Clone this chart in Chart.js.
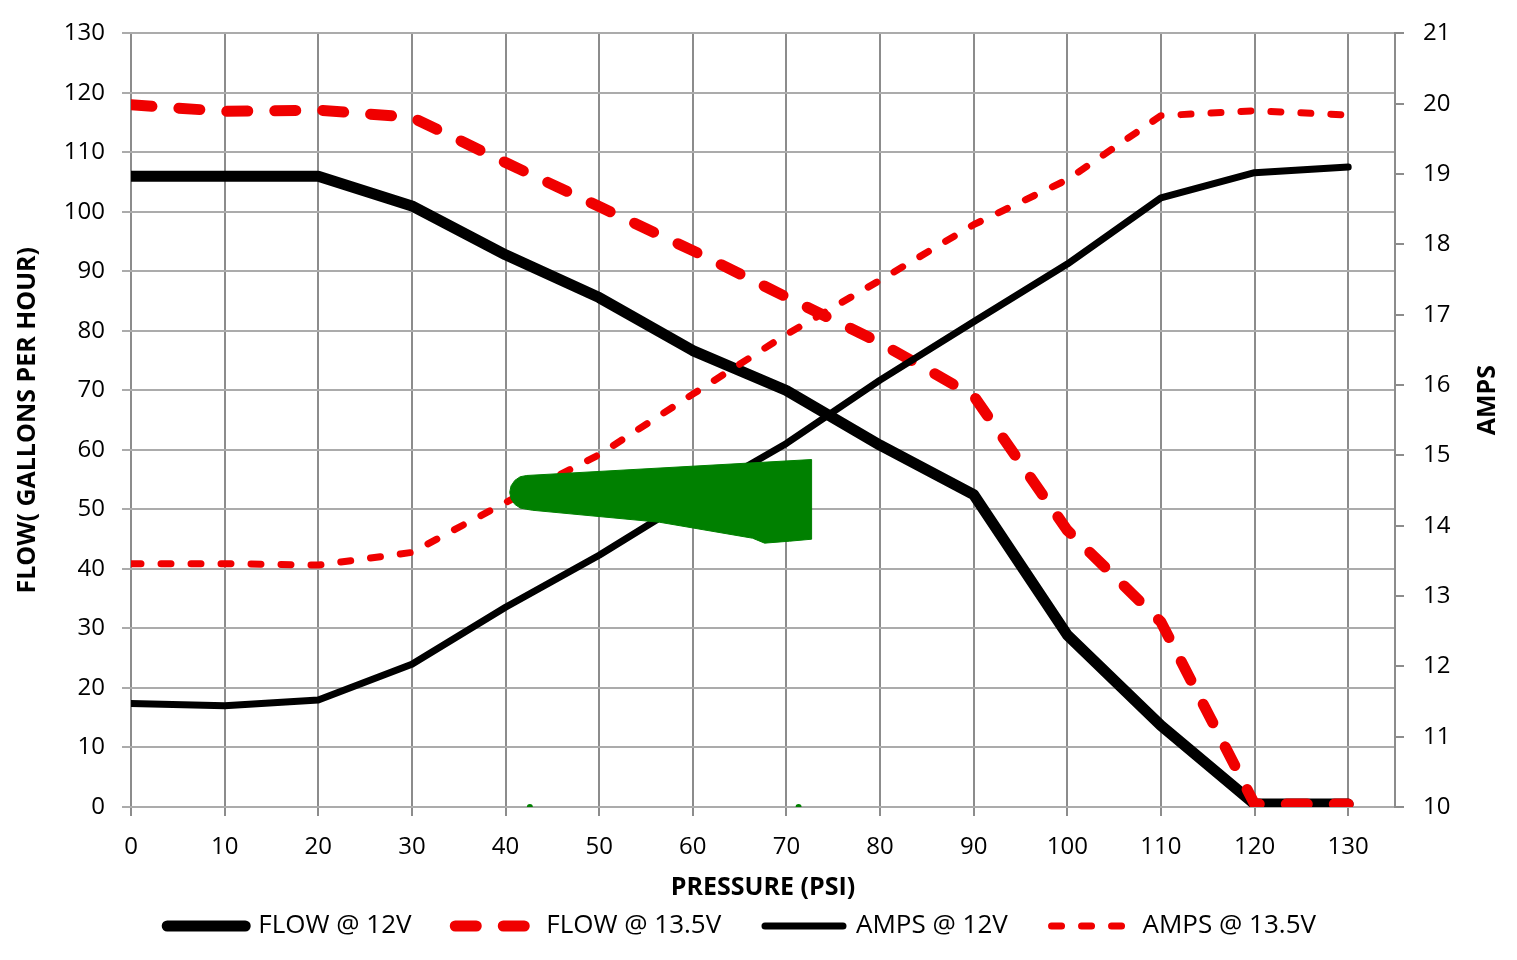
<!DOCTYPE html>
<html>
<head>
<meta charset="utf-8">
<title>Flow and amps vs pressure</title>
<script src="https://cdn.jsdelivr.net/npm/chart.js@4.4.1/dist/chart.umd.min.js"></script>
<style>
    html, body { margin: 0; padding: 0; background: #fff; }
    #chart { display: block; }
</style>
</head>
<body>
<canvas id="chart" width="1517" height="960"></canvas>
<script>
// pressure (psi) readings
const pressure = [0, 10, 20, 30, 40, 50, 60, 70, 80, 90, 100, 110, 120, 130];
const pressureTicks = [0, 10, 20, 30, 40, 50, 60, 70, 80, 90, 100, 110, 120, 130];

// flow in gallons per hour (left axis)
const flow12 = [106, 106, 106, 101, 92.8, 85.6, 76.7, 70, 60.8, 52.5, 28.9, 13.7, 0.5, 0.5];
const flow135 = [118, 116.9, 117.1, 115.9, 108.3, 100.9, 93.5, 85.7, 78, 69.1, 46.5, 31.1, 0.5, 0.5];

// amps (right axis)
const amps12 = [11.47, 11.44, 11.52, 12.03, 12.84, 13.58, 14.4, 15.17, 16.07, 16.9, 17.72, 18.66, 19.02, 19.1];
const amps135 = [13.46, 13.46, 13.44, 13.62, 14.33, 15.01, 15.87, 16.72, 17.49, 18.28, 18.92, 19.83, 19.9, 19.84];

const seriesLabels = ["FLOW @ 12V", "FLOW @ 13.5V", "AMPS @ 12V", "AMPS @ 13.5V"];
const ampsTitle = "AMPS";

// green marker drawn over the plot (flow axis units)
const greenMarkX = [42.27, 41.57, 40.99, 40.59, 40.45, 40.59, 40.99, 41.57, 42.27, 42.91, 56.46, 66.39, 67.67, 70.34, 72.69, 72.69, 42.27];
const greenMarkY = [55.71, 55.5, 54.88, 53.96, 52.87, 51.78, 50.86, 50.24, 50.02, 49.86, 47.85, 45.17, 44.34, 44.67, 45.0, 58.39, 55.71];
const greenDotX = [42.6, 71.3];
const greenDotY = [0, 0];

const RED = "rgb(240,0,0)";
const GRID_H = "#ababab";
const GRID_V = "#8c8c8c";

const pts = (xs, ys) => xs.map((x, i) => ({ x, y: ys[i] }));

Chart.defaults.font.family = "'Open Sans', sans-serif";
Chart.defaults.color = "#000";

const lineDefaults = {
    pointRadius: 0,
    fill: false,
    tension: 0,
    borderCapStyle: "round",
    borderJoinStyle: "round",
};

// right axis title reads bottom-to-top, so it is drawn here
const ampsTitlePlugin = {
    id: "ampsTitle",
    afterDraw(chart) {
        const { ctx, chartArea } = chart;
        ctx.save();
        ctx.translate(1488, (chartArea.top + chartArea.bottom) / 2 - 20);
        ctx.rotate(-Math.PI / 2);
        ctx.font = "bold 25px 'Open Sans', sans-serif";
        ctx.fillStyle = "#000";
        ctx.textAlign = "center";
        ctx.textBaseline = "middle";
        ctx.fillText(ampsTitle, 0, 0);
        ctx.restore();
    },
};

new Chart(document.getElementById("chart"), {
    type: "line",
    data: {
        datasets: [
            {
                ...lineDefaults,
                label: seriesLabels[0],
                data: pts(pressure, flow12),
                borderColor: "#000",
                backgroundColor: "#000",
                borderWidth: 11,
                yAxisID: "y",
                order: 4,
            },
            {
                ...lineDefaults,
                label: seriesLabels[1],
                data: pts(pressure, flow135),
                borderColor: RED,
                backgroundColor: RED,
                borderWidth: 11,
                borderDash: [21, 27],
                yAxisID: "y",
                order: 3,
            },
            {
                ...lineDefaults,
                label: seriesLabels[2],
                data: pts(pressure, amps12),
                borderColor: "#000",
                backgroundColor: "#000",
                borderWidth: 7,
                yAxisID: "y1",
                order: 2,
            },
            {
                ...lineDefaults,
                label: seriesLabels[3],
                data: pts(pressure, amps135),
                borderColor: RED,
                backgroundColor: RED,
                borderWidth: 7,
                borderDash: [10, 20],
                yAxisID: "y1",
                order: 1,
            },
            {
                label: "marker",
                data: pts(greenMarkX, greenMarkY),
                borderColor: "#008000",
                backgroundColor: "#008000",
                borderWidth: 1,
                pointRadius: 0,
                tension: 0,
                fill: "shape",
                yAxisID: "y",
                order: 0,
            },
            {
                label: "dots",
                data: pts(greenDotX, greenDotY),
                showLine: false,
                pointRadius: 3,
                pointBorderWidth: 0,
                backgroundColor: "#008000",
                yAxisID: "y",
                order: 0,
            },
        ],
    },
    options: {
        responsive: false,
        animation: false,
        events: [],
        layout: { padding: { top: 24, bottom: 11, left: 0, right: 0 } },
        scales: {
            x: {
                type: "linear",
                min: 0,
                max: 135,
                afterBuildTicks: (scale) => {
                    scale.ticks = pressureTicks.map(v => ({ value: v }));
                },
                afterFit: (scale) => { scale.height = 96; },
                grid: { color: GRID_V, lineWidth: 2, tickLength: 9, tickColor: GRID_V },
                border: { display: false },
                ticks: { font: { size: 24 }, padding: 17, maxRotation: 0, color: "#000" },
                title: {
                    display: true,
                    text: "PRESSURE (PSI)",
                    font: { size: 25, weight: "bold" },
                    padding: { top: 0, bottom: 0 },
                    color: "#000",
                },
            },
            y: {
                position: "left",
                min: 0,
                max: 130,
                afterFit: (scale) => { scale.width = 131; },
                grid: { color: GRID_H, lineWidth: 2, tickLength: 9, tickColor: GRID_H },
                border: { display: false },
                ticks: { stepSize: 10, font: { size: 24 }, padding: 17, color: "#000" },
                title: {
                    display: true,
                    text: "FLOW( GALLONS PER HOUR)",
                    font: { size: 25, weight: "bold" },
                    padding: { top: 13, bottom: 0 },
                    color: "#000",
                },
            },
            y1: {
                position: "right",
                min: 10,
                max: 21,
                afterFit: (scale) => { scale.width = 122; },
                grid: { drawOnChartArea: false, color: GRID_V, lineWidth: 2, tickLength: 9, tickColor: GRID_V },
                border: { display: true, color: GRID_V, width: 2 },
                ticks: { stepSize: 1, font: { size: 24 }, padding: 19, color: "#000" },
            },
        },
        plugins: {
            tooltip: { enabled: false },
            legend: {
                position: "bottom",
                labels: {
                    usePointStyle: true,
                    pointStyleWidth: 78,
                    padding: 10,
                    font: { size: 26 },
                    color: "#000",
                    generateLabels: (chart) => chart.data.datasets
                        .map((ds, i) => ({ ds, i }))
                        .filter(o => seriesLabels.includes(o.ds.label))
                        .map(({ ds, i }) => ({
                            text: ds.label + "     ",
                            strokeStyle: ds.borderColor,
                            fillStyle: ds.borderColor,
                            lineWidth: ds.borderWidth,
                            lineDash: ds.borderDash || [],
                            lineCap: "round",
                            pointStyle: "line",
                            fontColor: "#000",
                            hidden: false,
                            datasetIndex: i,
                        })),
                },
            },
        },
    },
    plugins: [ampsTitlePlugin],
});
</script>
</body>
</html>
